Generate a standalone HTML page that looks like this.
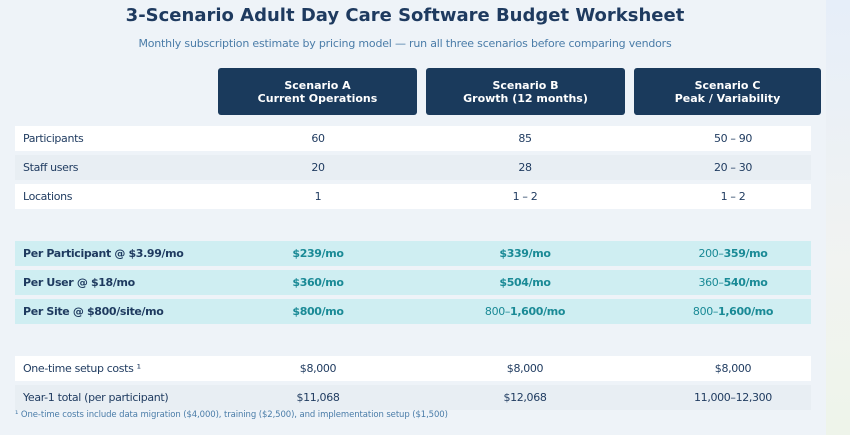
<!DOCTYPE html>
<html><head><meta charset="utf-8"><style>
body{margin:0;width:850px;height:435px;background:#eef3f8;font-family:"DejaVu Sans","Liberation Sans",sans-serif;position:relative;overflow:hidden;color:#1e3a5f}
.strip{position:absolute;left:826px;top:0;width:24px;height:435px;background:linear-gradient(#e6eef9,#f1f3f1 60%,#eef4ea)}
.t{position:absolute;left:0;text-align:center}
.h{position:absolute;top:68px;height:47px;background:#1a3a5c;border-radius:3px;color:#fff;font-weight:bold;font-size:11px;text-align:center;line-height:13px;display:flex;align-items:center;justify-content:center}
.r{position:absolute;left:15px;width:796px;height:25px;font-size:11px;line-height:25px;letter-spacing:-0.35px}
.r span{position:absolute;top:0}
.l{left:8px}
.a,.b,.c{width:160px;text-align:center}
.a{left:223px}.b{left:430px}.c{left:638px}
.w{background:#fff}.g{background:#e8eef3}.tl{background:#cfeef2}
.tl .a,.tl .b,.tl .c{color:#1a8a96;font-weight:bold}
.n{font-weight:normal}
</style></head><body>
<div class="strip"></div>
<div class="t" style="top:5px;font-size:18px;font-weight:bold;width:810px">3-Scenario Adult Day Care Software Budget Worksheet</div>
<div class="t" style="top:37px;font-size:11px;color:#4a7ca8;width:810px;letter-spacing:-0.2px">Monthly subscription estimate by pricing model — run all three scenarios before comparing vendors</div>
<div class="h" style="left:218px;width:199px">Scenario A<br>Current Operations</div>
<div class="h" style="left:426px;width:199px">Scenario B<br>Growth (12 months)</div>
<div class="h" style="left:634px;width:187px">Scenario C<br>Peak / Variability</div>
<div class="r w" style="top:126px"><span class="l">Participants</span><span class="a">60</span><span class="b">85</span><span class="c">50 – 90</span></div>
<div class="r g" style="top:155px"><span class="l">Staff users</span><span class="a">20</span><span class="b">28</span><span class="c">20 – 30</span></div>
<div class="r w" style="top:184px"><span class="l">Locations</span><span class="a">1</span><span class="b">1 – 2</span><span class="c">1 – 2</span></div>
<div class="r tl" style="top:241px;font-weight:bold"><span class="l">Per Participant @ $3.99/mo</span><span class="a">$239/mo</span><span class="b">$339/mo</span><span class="c"><span class="n" style="position:static">200–</span>359/mo</span></div>
<div class="r tl" style="top:270px;font-weight:bold"><span class="l">Per User @ $18/mo</span><span class="a">$360/mo</span><span class="b">$504/mo</span><span class="c"><span class="n" style="position:static">360–</span>540/mo</span></div>
<div class="r tl" style="top:299px;font-weight:bold"><span class="l">Per Site @ $800/site/mo</span><span class="a">$800/mo</span><span class="b"><span class="n" style="position:static">800–</span>1,600/mo</span><span class="c"><span class="n" style="position:static">800–</span>1,600/mo</span></div>
<div class="r w" style="top:356px"><span class="l">One-time setup costs ¹</span><span class="a">$8,000</span><span class="b">$8,000</span><span class="c">$8,000</span></div>
<div class="r g" style="top:385px"><span class="l">Year-1 total (per participant)</span><span class="a">$11,068</span><span class="b">$12,068</span><span class="c">11,000–12,300</span></div>
<div style="position:absolute;left:15px;top:410px;font-size:8.5px;color:#4a7ca8;letter-spacing:-0.1px">¹ One-time costs include data migration ($4,000), training ($2,500), and implementation setup ($1,500)</div>
</body></html>
